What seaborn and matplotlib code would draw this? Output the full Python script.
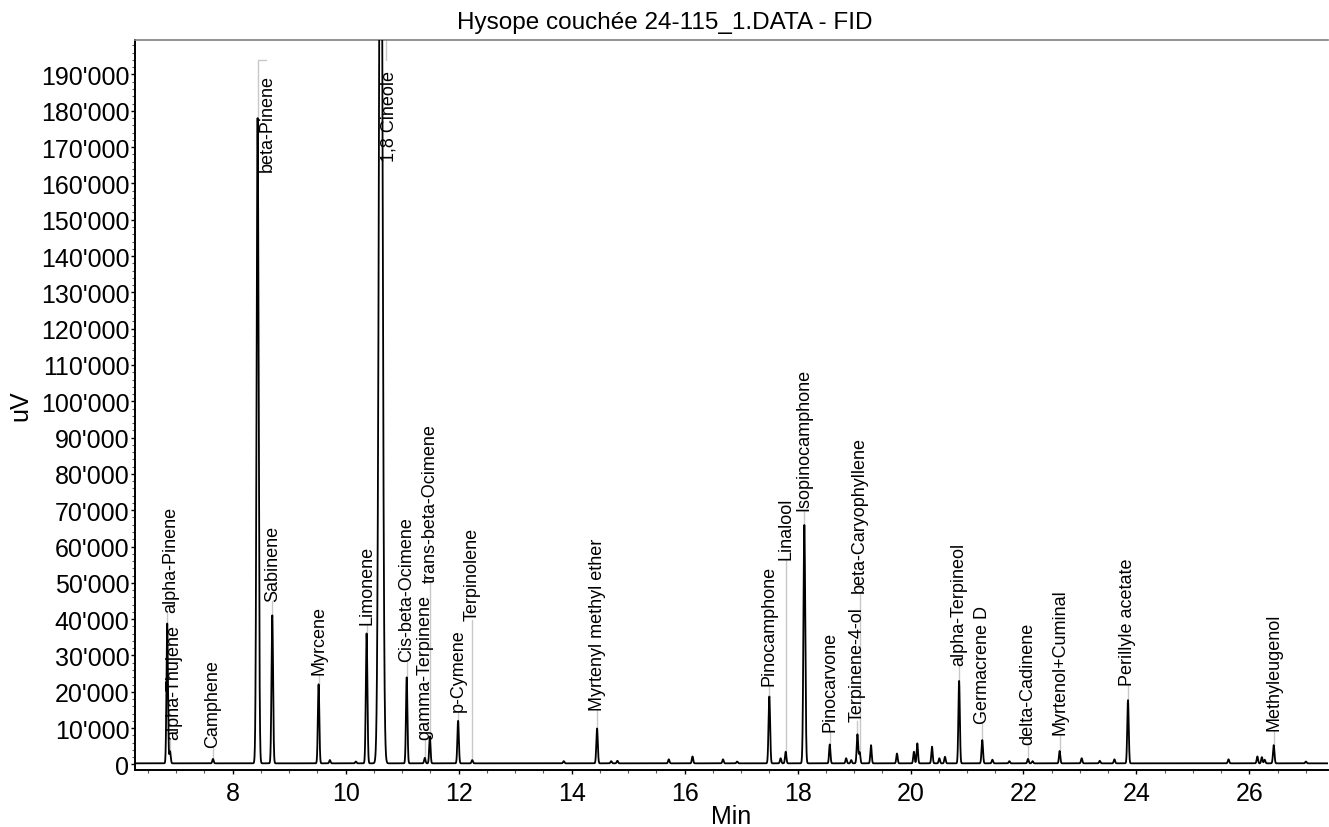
import numpy as np
import matplotlib
matplotlib.use("Agg")
import matplotlib.pyplot as plt
import matplotlib.ticker as mticker
import seaborn as sns

# labelled peaks: retention time (min), apex height (uV)
peak_names = ["alpha-Pinene", "alpha-Thujene", "Camphene", "beta-Pinene", "Sabinene",
              "Myrcene", "Limonene", "1,8 Cineole", "Cis-beta-Ocimene", "gamma-Terpinene",
              "trans-beta-Ocimene", "p-Cymene", "Terpinolene", "Myrtenyl methyl ether",
              "Pinocamphone", "Linalool", "Isopinocamphone", "Pinocarvone", "Terpinene-4-ol",
              "beta-Caryophyllene", "alpha-Terpineol", "Germacrene D", "delta-Cadinene",
              "Myrtenol+Cuminal", "Perillyle acetate", "Methyleugenol"]
peak_rt = [6.84, 6.89, 7.65, 8.44, 8.70, 9.52, 10.37, 10.62, 11.08, 11.40,
           11.49, 11.99, 12.24, 14.45, 17.50, 17.79, 18.12, 18.57, 19.06,
           19.10, 20.86, 21.27, 22.08, 22.64, 23.85, 26.43]
peak_height = [38500, 3300, 1200, 177700, 40800, 21800, 35800, 300000, 23700, 1500,
               7400, 11700, 900, 9600, 18400, 3200, 65700, 5200, 8000,
               3000, 22700, 6400, 1200, 3400, 17400, 5000]
peak_width = [0.013, 0.012, 0.012, 0.018, 0.014, 0.013, 0.014, 0.03, 0.013, 0.012,
              0.012, 0.013, 0.012, 0.013, 0.014, 0.012, 0.016, 0.012, 0.013,
              0.012, 0.013, 0.013, 0.012, 0.012, 0.013, 0.013]
# where each label starts (uV)
label_y = [41900, 6900, 4700, 163400, 44900, 24800, 38600, 166100, 28500, 6900,
           50100, 14700, 39900, 15100, 22000, 56500, 70200, 9200, 11900,
           47400, 27500, 11500, 5500, 8300, 22000, 9600]

# small unlabelled peaks
minor_rt = [9.72, 10.18, 13.86, 14.70, 14.81, 15.72, 16.14, 16.68, 16.93, 17.70,
            18.86, 18.95, 19.30, 19.76, 20.06, 20.12, 20.38, 20.51, 20.61, 21.45,
            21.75, 22.16, 23.03, 23.35, 23.61, 25.63, 26.14, 26.22, 26.27, 27.0]
minor_height = [900, 500, 600, 600, 700, 1100, 1900, 1100, 500, 1400,
                1400, 900, 5000, 2700, 3200, 5500, 4600, 1400, 1800, 1000,
                600, 600, 1400, 700, 1100, 1100, 1900, 1700, 1000, 500]
baseline = 300

x_min, x_max = 6.27, 27.39
t = np.linspace(x_min, x_max, 12000)
signal = np.full_like(t, baseline, dtype=float)
for rt, h, w in zip(peak_rt, peak_height, peak_width):
    signal += h * np.exp(-0.5 * ((t - rt) / w) ** 2)
for rt, h in zip(minor_rt, minor_height):
    signal += h * np.exp(-0.5 * ((t - rt) / 0.012) ** 2)

sns.set_style("ticks")
plt.rcParams["font.family"] = ["Liberation Sans", "DejaVu Sans"]
plt.rcParams["text.color"] = "black"
plt.rcParams["axes.labelcolor"] = "black"

fig = plt.figure(figsize=(13.29, 8.28), dpi=100)
ax = fig.add_axes([0.1016, 0.069, 0.8976, 0.8815])

sns.lineplot(x=t, y=signal, ax=ax, color="black", linewidth=1.3, zorder=3)

leader = "#c8c8c8"
for name, rt, h, ly in zip(peak_names, peak_rt, peak_height, label_y):
    tx = rt
    if name == "beta-Pinene":
        ax.plot([rt, rt, rt + 0.14], [h, 194000, 194000], color=leader, lw=1, zorder=1)
        tx = rt + 0.18
    elif name == "1,8 Cineole":
        ax.plot([rt + 0.1, rt + 0.1], [199400, 194000], color=leader, lw=1, zorder=1)
        tx = rt + 0.14
    else:
        ax.plot([rt, rt], [h, ly], color=leader, lw=1, zorder=1)
        if name.startswith("alpha-Thujene") or name == "alpha-Pinene":
            tx = rt + 0.07
    ax.text(tx, ly, name, rotation=90, ha="center", va="bottom", fontsize=13)

ax.set_xlim(x_min, x_max)
ax.set_ylim(-1500, 199500)
ax.xaxis.set_major_locator(mticker.MultipleLocator(2))
ax.xaxis.set_minor_locator(mticker.MultipleLocator(0.5))
ax.yaxis.set_major_locator(mticker.MultipleLocator(10000))
ax.yaxis.set_minor_locator(mticker.MultipleLocator(2000))
ax.yaxis.set_major_formatter(mticker.FuncFormatter(lambda v, p: f"{int(v):,}".replace(",", "'")))
ax.tick_params(axis="both", which="major", labelsize=18, length=3, width=1,
               color="black", labelcolor="black")
ax.tick_params(axis="both", which="minor", length=2, width=0.8, color="#555555")
ax.tick_params(axis="y", pad=1)
ax.tick_params(axis="x", pad=5)

ax.spines["left"].set_linewidth(1.4)
ax.spines["bottom"].set_linewidth(1.4)
ax.spines["left"].set_color("black")
ax.spines["bottom"].set_color("black")
ax.spines["top"].set_color("#808080")
ax.spines["top"].set_linewidth(1.2)
ax.spines["right"].set_visible(False)

ax.set_xlabel("Min", fontsize=18, labelpad=-1)
ax.set_ylabel("uV", fontsize=18, labelpad=6)
fig.text(0.5, 0.972, "Hysope couchée 24-115_1.DATA - FID", ha="center", va="center", fontsize=17.5)

fig.savefig("out.png", dpi=100)
